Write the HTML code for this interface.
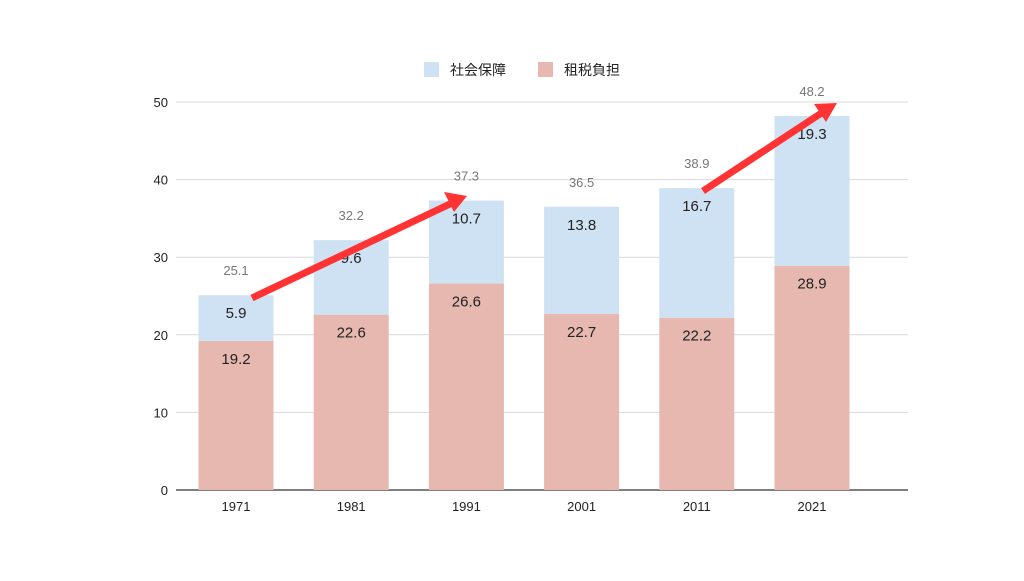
<!DOCTYPE html>
<html><head><meta charset="utf-8"><style>
body{margin:0;background:#fff;font-family:"Liberation Sans","Noto Sans CJK JP",sans-serif}
</style></head><body>
<svg width="1024" height="576" xmlns="http://www.w3.org/2000/svg" font-family="Liberation Sans, Noto Sans CJK JP, sans-serif">
<rect width="1024" height="576" fill="#fff"/>
<g>
 <rect x="424" y="62" width="15" height="15" fill="#cfe2f3"/>
 <text x="450" y="75" font-size="14" fill="#222">社会保障</text>
 <rect x="538" y="62" width="15" height="15" fill="#e6b8af"/>
 <text x="564" y="75" font-size="14" fill="#222">租税負担</text>
</g>
<g id="grid"></g>
<g id="bars"></g>
<g stroke="#f33" stroke-width="7" fill="#f33" stroke-linecap="butt">
 <line x1="252" y1="298" x2="452" y2="203"/>
 <polygon points="467,196 444,192 454,212" stroke="none"/>
 <line x1="703" y1="191" x2="823" y2="112"/>
 <polygon points="837,103 814,104 826,122" stroke="none"/>
</g>
</svg>
<script>
const categories=["1971","1981","1991","2001","2011","2021"];
const taxValues=[19.2,22.6,26.6,22.7,22.2,28.9];
const socialValues=[5.9,9.6,10.7,13.8,16.7,19.3];
const totalLabels=["25.1","32.2","37.3","36.5","38.9","48.2"];
const yTicks=[0,10,20,30,40,50];
const NS="http://www.w3.org/2000/svg";
const y0=490,pxPer=7.76,x0=198.5,step=115.2,bw=75;
const yS=v=>y0-v*pxPer;
const xC=i=>x0+step*i+bw/2;
function mk(t,a,txt){const e=document.createElementNS(NS,t);for(const k in a)e.setAttribute(k,a[k]);if(txt!=null)e.textContent=txt;return e;}
const grid=document.getElementById('grid'),bars=document.getElementById('bars');
yTicks.forEach(v=>{
 const l=mk('line',{x1:176,x2:908,y1:yS(v),y2:yS(v),stroke:v===0?'#333':'#d9d9d9','stroke-width':v===0?1.3:1});
 
 
 grid.appendChild(l);
 const t=mk('text',{x:168,y:yS(v)+5,'text-anchor':'end','font-size':13,fill:'#222'},String(v));
 
 
 grid.appendChild(t);
});
categories.forEach((c,i)=>{
 const x=xC(i)-bw/2,tax=taxValues[i],soc=socialValues[i],tot=tax+soc;
 const r1=mk('rect',{x:x,y:yS(tax),width:bw,height:tax*pxPer,fill:'#e6b8af'});
 
 
 bars.appendChild(r1);
 const r2=mk('rect',{x:x,y:yS(tot),width:bw,height:soc*pxPer,fill:'#cfe2f3'});
 
 
 bars.appendChild(r2);
 const t1=mk('text',{x:xC(i),y:yS(tax)+23,'text-anchor':'middle','font-size':15,fill:'#222'},tax.toFixed(1));
 
 
 bars.appendChild(t1);
 const t2=mk('text',{x:xC(i),y:yS(tot)+23,'text-anchor':'middle','font-size':15,fill:'#222'},soc.toFixed(1));
 
 
 bars.appendChild(t2);
 const t3=mk('text',{x:xC(i),y:yS(tot)-20,'text-anchor':'middle','font-size':13,fill:'#777'},totalLabels[i]);
 
 
 bars.appendChild(t3);
 const t4=mk('text',{x:xC(i),y:511,'text-anchor':'middle','font-size':13,fill:'#222'},c);
 
 
 bars.appendChild(t4);
});
</script>
</body></html>
